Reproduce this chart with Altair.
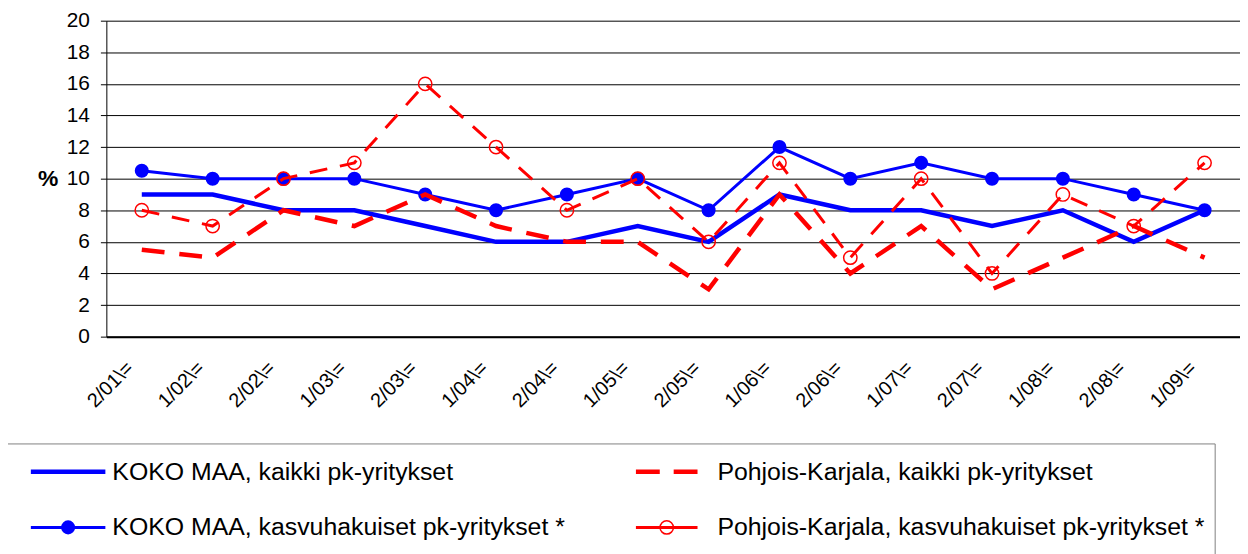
import altair as alt
import pandas as pd

categories = ["2/01\\=", "1/02\\=", "2/02\\=", "1/03\\=", "2/03\\=", "1/04\\=", "2/04\\=", "1/05\\=",
              "2/05\\=", "1/06\\=", "2/06\\=", "1/07\\=", "2/07\\=", "1/08\\=", "2/08\\=", "1/09\\="]

names = ["KOKO MAA, kaikki pk-yritykset",
         "KOKO MAA, kasvuhakuiset pk-yritykset *",
         "Pohjois-Karjala, kaikki pk-yritykset",
         "Pohjois-Karjala, kasvuhakuiset pk-yritykset *"]

koko_kaikki = [9, 9, 8, 8, 7, 6, 6, 7, 6, 9, 8, 8, 7, 8, 6, 8]
koko_kasvu = [10.5, 10, 10, 10, 9, 8, 9, 10, 8, 12, 10, 11, 10, 10, 9, 8]
pk_kaikki = [5.5, 5, 8, 7, 9, 7, 6, 6, 3, 9, 4, 7, 3, 5, 7, 5]
pk_kasvu = [8, 7, 10, 11, 16, 12, 8, 10, 6, 11, 5, 10, 4, 9, 7, 11]

y_ticks = list(range(0, 21, 2))

series_values = [koko_kaikki, koko_kasvu, pk_kaikki, pk_kasvu]
rows = []
for name, vals in zip(names, series_values):
    for c, v in zip(categories, vals):
        rows.append({"category": c, "value": v, "series": name})
df = pd.DataFrame(rows)

FONT = "Liberation Sans"
BLUE = "#0000FF"
RED = "#FF0000"

PLOT_TOP = 11      # padding above the plot area
PLOT_H = 318

base = alt.Chart(df).encode(
    x=alt.X("category:N", sort=categories, scale=alt.Scale(type="point", padding=0.5),
            axis=alt.Axis(title="", labelAngle=-45, labelAlign="right", labelBaseline="middle",
                          labelFontSize=20, labelFont=FONT, labelColor="black",
                          labelPadding=28, labelOffset=-12, ticks=False, grid=False,
                          domainColor="black", domainWidth=2, labelOverlap=False)),
    y=alt.Y("value:Q", scale=alt.Scale(domain=[0, 20], nice=False),
            axis=alt.Axis(values=y_ticks, grid=True, gridColor="black", gridWidth=1,
                          domainColor="black", domainWidth=1, tickColor="black", tickSize=6,
                          labelFontSize=21, labelFont=FONT, labelColor="black", labelPadding=11,
                          title="%", titleAngle=0, titleFontSize=23, titleFont=FONT,
                          titleFontWeight="bold", titleColor="black", titleX=-59, titleY=PLOT_H / 2,
                          titleAlign="center", titleBaseline="middle")),
)

def sel(i):
    return base.transform_filter(alt.datum.series == names[i])

l1 = sel(0).mark_line(color=BLUE, strokeWidth=4.5)
l2 = sel(1).mark_line(color=BLUE, strokeWidth=3)
p2 = sel(1).mark_point(filled=True, shape="circle", size=200, color=BLUE, opacity=1)
l3 = sel(2).mark_line(color=RED, strokeWidth=4.5, strokeDash=[23, 15])
l4 = sel(3).mark_line(color=RED, strokeWidth=3, strokeDash=[18, 13])
p4 = sel(3).mark_point(filled=False, shape="circle", size=180, color=RED, strokeWidth=1.5, opacity=1)

# legend (layout in pixels, measured from the plot origin)
def lg():
    return alt.Chart(pd.DataFrame({"k": [0]}))

top_shift = 8 + PLOT_TOP           # absolute y of the plot top
col_sym = [(-76, -1), (533, 595)]
col_text = [6, 615]
row_y = [473 - top_shift, 529 - top_shift]

legend_layers = [
    lg().mark_rect(fillOpacity=0, stroke="#808080", strokeWidth=1).encode(
        x=alt.value(-100), x2=alt.value(1116), y=alt.value(445 - top_shift), y2=alt.value(570)),
]
entries = [
    (0, 0, BLUE, 4.5, None, None),
    (0, 1, BLUE, 3, None, "filled"),
    (1, 0, RED, 4.5, [24, 14], None),
    (1, 1, RED, 3, None, "hollow"),
]
for idx, (col, row, colr, sw, dash, marker) in enumerate(entries):
    x0, x1 = col_sym[col]
    y = row_y[row]
    kw = dict(color=colr, strokeWidth=sw)
    if dash is not None:
        kw["strokeDash"] = dash
    legend_layers.append(lg().mark_rule(**kw).encode(x=alt.value(x0), x2=alt.value(x1), y=alt.value(y)))
    if marker == "filled":
        legend_layers.append(lg().mark_point(filled=True, shape="circle", size=200, color=colr, opacity=1)
                             .encode(x=alt.value((x0 + x1) / 2), y=alt.value(y)))
    elif marker == "hollow":
        legend_layers.append(lg().mark_point(filled=False, shape="circle", size=180, color=colr,
                                             strokeWidth=1.5, opacity=1)
                             .encode(x=alt.value((x0 + x1) / 2), y=alt.value(y)))
    legend_layers.append(lg().mark_text(align="left", baseline="middle", fontSize=25, font=FONT,
                                        color="black")
                         .encode(x=alt.value(col_text[col]), y=alt.value(y), text=alt.value(names[idx])))

chart = alt.layer(l1, l2, p2, l3, l4, p4, *legend_layers).properties(
    width=1141, height=PLOT_H,
    autosize=alt.AutoSizeParams(type="none"),
    padding={"left": 99, "top": PLOT_TOP, "right": 0, "bottom": 546 - PLOT_TOP - PLOT_H},
).configure_view(stroke="transparent")

chart.save("out.html", embed_options={"renderer": "svg", "actions": False})
